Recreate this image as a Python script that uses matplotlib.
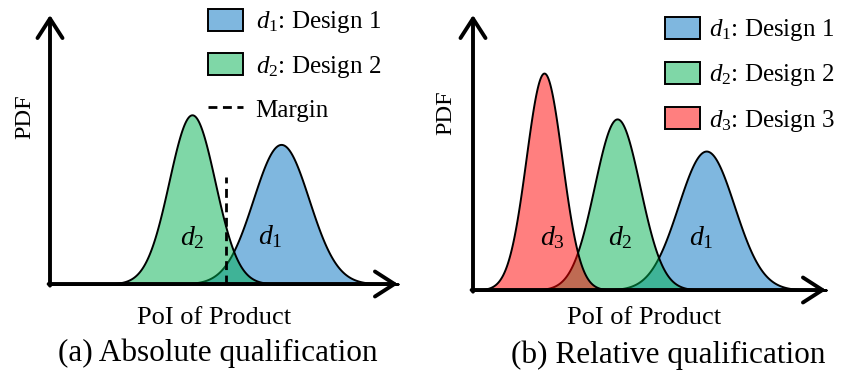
import numpy as np
import matplotlib
matplotlib.use("Agg")
import matplotlib.pyplot as plt
from matplotlib.patches import Patch
from matplotlib.lines import Line2D

plt.rcParams["font.family"] = ["Liberation Serif", "DejaVu Serif"]
plt.rcParams["mathtext.fontset"] = "custom"
plt.rcParams["mathtext.rm"] = "Liberation Serif"
plt.rcParams["mathtext.it"] = "Liberation Serif:italic"

# Design distributions (mean, spread) on the PoI axis
abs_designs = ["d1", "d2"]
abs_means = [6.64, 4.08]
abs_sigmas = [0.80, 0.66]
margin_x = 5.06
margin_top = 0.382

rel_designs = ["d1", "d2", "d3"]
rel_means = [6.70, 4.14, 2.04]
rel_sigmas = [0.804, 0.653, 0.515]

colors = {"d1": (0/255, 112/255, 192/255, 0.5),
          "d2": (0/255, 176/255, 80/255, 0.5),
          "d3": (255/255, 0/255, 0/255, 0.5)}
inline_labels = {"d1": r"$d_1$", "d2": r"$d_2$", "d3": r"$d_3$"}

W, H = 856, 372
fig = plt.figure(figsize=(W / 100, H / 100), dpi=100)


def px_axes(x0, y_axis, x1, y_top):
    return fig.add_axes([x0 / W, (H - y_axis) / H, (x1 - x0) / W, (y_axis - y_top) / H])


def normal_pdf(x, mu, s):
    return np.exp(-0.5 * ((x - mu) / s) ** 2) / (s * np.sqrt(2 * np.pi))


def style_axes(ax, xmax, ymax):
    ax.set_xlim(0, xmax)
    ax.set_ylim(0, ymax)
    ax.set_xticks([])
    ax.set_yticks([])
    for sp in ax.spines.values():
        sp.set_visible(False)
    ax.patch.set_alpha(0)
    arrow = dict(arrowstyle="->,head_length=0.7,head_width=0.45", lw=2.8,
                 color="black", mutation_scale=20, shrinkA=0, shrinkB=0)
    ax.annotate("", xy=(1, 0), xytext=(-0.004, 0), xycoords="axes fraction",
                arrowprops=arrow, annotation_clip=False)
    ax.annotate("", xy=(0, 1), xytext=(0, -0.006), xycoords="axes fraction",
                arrowprops=arrow, annotation_clip=False)


def draw_curves(ax, names, means, sigmas, xmax):
    x = np.linspace(0, xmax, 800)
    for n, m, s in zip(names, means, sigmas):
        ax.fill_between(x, normal_pdf(x, m, s), 0, facecolor=colors[n],
                        edgecolor="black", linewidth=1.4, clip_on=False)


# (a) absolute qualification
axa = px_axes(50, 284, 398, 15)
style_axes(axa, 10.0, 0.961)
draw_curves(axa, abs_designs, abs_means, abs_sigmas, 10.0)
axa.plot([margin_x, margin_x], [0, margin_top], color="black", lw=2.0,
         dashes=(3.2, 2.0))
axa.text(4.08, 0.164, inline_labels["d2"], fontsize=20, ha="center", va="center")
axa.text(6.32, 0.168, inline_labels["d1"], fontsize=20, ha="center", va="center")

# (b) relative qualification
axb = px_axes(473, 290, 826, 15)
style_axes(axb, 10.14, 0.982)
draw_curves(axb, rel_designs, rel_means, rel_sigmas, 10.14)
axb.text(2.27, 0.186, inline_labels["d3"], fontsize=20, ha="center", va="center")
axb.text(4.22, 0.186, inline_labels["d2"], fontsize=20, ha="center", va="center")
axb.text(6.55, 0.186, inline_labels["d1"], fontsize=20, ha="center", va="center")

# axis titles and captions
fig.text(214 / W, 1 - 318 / H, "PoI of Product", fontsize=19, ha="center", va="center")
fig.text(644 / W, 1 - 318 / H, "PoI of Product", fontsize=19, ha="center", va="center")
fig.text(218 / W, 1 - 353 / H, "(a) Absolute qualification", fontsize=22.5, ha="center", va="center")
fig.text(668 / W, 1 - 355 / H, "(b) Relative qualification", fontsize=22.5, ha="center", va="center")
fig.text(25 / W, 1 - 117 / H, "PDF", fontsize=17.5, rotation=90, ha="center", va="center")
fig.text(446 / W, 1 - 113 / H, "PDF", fontsize=17.5, rotation=90, ha="center", va="center")

# legends
handles_a = [Patch(facecolor=colors["d1"], edgecolor="black", lw=1.4),
             Patch(facecolor=colors["d2"], edgecolor="black", lw=1.4),
             Line2D([0], [0], color="black", lw=2.0, dashes=(3.2, 2.0))]
labels_a = [r"$d_1$: Design 1", r"$d_2$: Design 2", "Margin"]
fig.legend(handles_a, labels_a, loc="upper left",
           bbox_to_anchor=(208 / W, 1 - 9 / H), frameon=False, fontsize=18,
           handlelength=1.4, handleheight=0.95, handletextpad=0.5,
           labelspacing=0.71, borderpad=0, borderaxespad=0)

handles_b = [Patch(facecolor=colors["d1"], edgecolor="black", lw=1.4),
             Patch(facecolor=colors["d2"], edgecolor="black", lw=1.4),
             Patch(facecolor=colors["d3"], edgecolor="black", lw=1.4)]
labels_b = [r"$d_{\mathit{1}}$: Design 1", r"$d_2$: Design 2", r"$d_3$: Design 3"]
fig.legend(handles_b, labels_b, loc="upper left",
           bbox_to_anchor=(665 / W, 1 - 17 / H), frameon=False, fontsize=18,
           handlelength=1.4, handleheight=0.95, handletextpad=0.35,
           labelspacing=0.75, borderpad=0, borderaxespad=0)

fig.savefig("out.png", dpi=100)
